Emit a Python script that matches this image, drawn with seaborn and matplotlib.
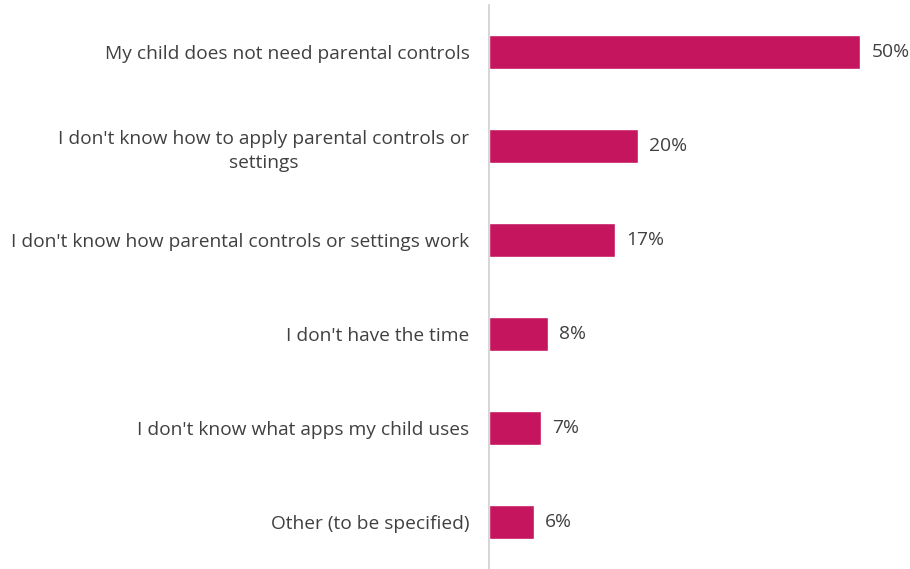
import matplotlib
matplotlib.use("Agg")
import matplotlib.pyplot as plt
import seaborn as sns
import pandas as pd

reasons = [
    "My child does not need parental controls",
    "I don't know how to apply parental controls or\nsettings",
    "I don't know how parental controls or settings work",
    "I don't have the time",
    "I don't know what apps my child uses",
    "Other (to be specified)",
]
shares = [50, 20, 17, 8, 7, 6]
value_labels = ["50%", "20%", "17%", "8%", "7%", "6%"]

bar_color = "#C5155E"
text_color = "#404040"

sns.set_theme(style="white")
plt.rcParams["font.family"] = ["Open Sans", "DejaVu Sans"]

df = pd.DataFrame({"reason": reasons, "share": shares})

fig = plt.figure(figsize=(9.10, 5.69), dpi=100)
ax = fig.add_axes([489 / 910, 0.0, 416 / 910, 564 / 569])

sns.barplot(data=df, x="share", y="reason", orient="h", color=bar_color,
            width=0.36, saturation=1, ax=ax)

for patch, lab in zip(ax.patches, value_labels):
    y = patch.get_y() + patch.get_height() / 2
    ax.annotate(lab, (patch.get_width(), y), xytext=(11, 0),
                textcoords="offset pixels",
                va="center", ha="left", fontsize=13.9, color=text_color)

ax.set_xlim(0, 56)
ax.set_ylim(5.5, -0.5)
ax.set_xlabel("")
ax.set_ylabel("")
ax.set_xticks([])
ax.tick_params(axis="y", length=0, pad=14, labelsize=13.8, labelcolor=text_color)
for lbl in ax.get_yticklabels():
    lbl.set_horizontalalignment("right")
    lbl.set_multialignment("center")
    lbl.set_linespacing(1.45)

for side in ["top", "right", "bottom"]:
    ax.spines[side].set_visible(False)
ax.spines["left"].set_color("#D0D0D0")
ax.spines["left"].set_linewidth(1.2)

fig.savefig("out.png", dpi=100)
